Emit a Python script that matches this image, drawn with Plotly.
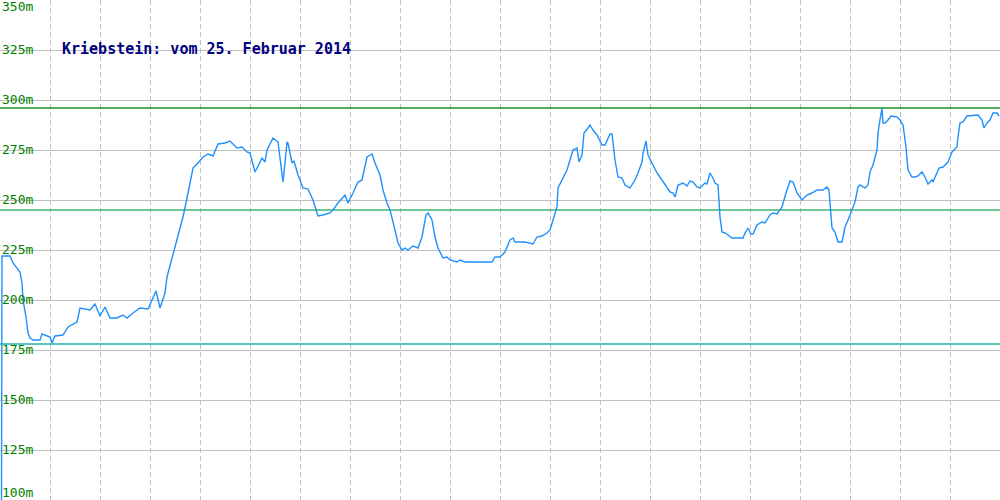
import plotly.graph_objects as go

# --- data ---
sample = [1.5, 2, 10, 13, 20, 22, 23, 26, 28, 30, 33, 40, 42, 50, 52, 55, 63, 68, 77, 80,
          90, 95, 100, 105, 110, 117, 123, 127, 133, 140, 148, 156, 160, 165, 167, 175, 178, 183, 187, 190,
          193, 198, 203, 208, 213, 218, 225, 230, 237, 242, 247, 250, 255, 262, 265, 267, 273, 278, 283, 285,
          287, 288, 292, 294, 298, 303, 308, 313, 318, 323, 330, 333, 338, 345, 348, 353, 358, 362, 367, 372,
          375, 380, 383, 387, 390, 395, 398, 402, 405, 408, 413, 418, 422, 426, 428, 432, 435, 438, 443, 447,
          450, 457, 460, 465, 492, 495, 500, 505, 510, 513, 515, 525, 533, 537, 542, 547, 550, 553, 557, 558,
          563, 567, 570, 573, 577, 579, 582, 584, 588, 590, 593, 597, 602, 605, 610, 612, 615, 618, 622, 625,
          630, 635, 638, 642, 643, 646, 648, 652, 657, 662, 667, 670, 673, 675, 678, 683, 687, 690, 693, 697,
          700, 705, 707, 710, 713, 715, 718, 720, 722, 725, 728, 732, 743, 745, 748, 751, 753, 757, 762, 765,
          770, 773, 777, 782, 786, 790, 793, 797, 802, 807, 812, 817, 823, 827, 829, 831, 832, 835, 838, 842,
          845, 848, 852, 855, 858, 860, 865, 868, 870, 873, 877, 878, 880, 882, 883, 885, 888, 891, 897, 900,
          903, 906, 908, 912, 915, 918, 922, 925, 928, 932, 933, 937, 939, 943, 948, 952, 957, 958, 960, 963,
          967, 978, 982, 984, 987, 990, 993, 997, 999]
level_m = [100, 222, 222, 218.5, 214, 208.5, 200, 191.5, 183.5, 181, 180, 180, 183, 181.5, 178.5, 182, 182.5, 186.5, 189, 196,
           195, 198, 192, 196.5, 191, 191, 192.5, 191, 193.5, 196, 195.5, 204.5, 196, 203.5, 211.5, 226.5, 232.5, 241.5, 251, 258.5,
           266, 268.5, 271.5, 273, 272, 278, 278.5, 279.5, 276, 276.5, 274, 273.5, 264, 271, 269, 275, 281, 279, 259, 268.5,
           279, 278.5, 268.5, 269.5, 262.5, 256, 255.5, 250, 242, 242.5, 243.5, 245, 248.5, 252.5, 248.5, 253.5, 259, 260, 271.5, 273,
           268.5, 262.5, 255, 248.5, 245, 235, 228.5, 225, 226, 225, 227, 226, 231.5, 242.5, 243.5, 240, 231.5, 226, 221, 221.5,
           220, 219, 220, 219, 219, 221.5, 221.5, 224, 230, 231, 229, 229, 228, 231.5, 232, 233.5, 235, 240, 246.5, 256,
           261.5, 265, 270, 275, 276, 269, 272.5, 283.5, 286, 287.5, 285, 282.5, 277.5, 277.5, 283, 283, 270, 261.5, 261, 257.5,
           256, 260, 263.5, 269, 273.5, 279.5, 272.5, 268.5, 263.5, 260, 256.5, 254, 253.5, 251.5, 257.5, 258.5, 257, 259.5, 259, 256.5,
           256, 258.5, 258, 263.5, 261, 258.5, 257.5, 241.5, 234, 233.5, 232.5, 231, 231, 233.5, 236, 233, 233, 237.5, 239, 238.5,
           242.5, 243.5, 243, 246.5, 253.5, 259.5, 259, 253.5, 250, 252.5, 253.5, 255, 255, 256.5, 255, 241.5, 236, 234, 229, 229,
           236.5, 240, 245, 249, 256.5, 257.5, 256, 257.5, 264, 267.5, 275, 283.5, 290, 296, 288.5, 288.5, 290, 292, 291.5, 290,
           287.5, 276.5, 265, 261.5, 261.5, 262, 264, 261.5, 258, 260, 259, 263.5, 266, 266.5, 269, 274, 276.5, 281.5, 288.5, 289,
           292, 292.5, 290, 286, 288.5, 290, 293.5, 293.5, 292]

level_max = 296
level_avg = 245
level_min = 178

y_ticks = [100, 125, 150, 175, 200, 225, 250, 275, 300, 325, 350]
tick_labels = [f"{v}m" for v in y_ticks]
title_text = "Kriebstein: vom 25. Februar 2014"

# --- figure ---
fig = go.Figure()

x_range = [0, 1000]
for val, col in [(level_max, "#1e8c1e"), (level_avg, "#3cb371"), (level_min, "#20b2aa")]:
    fig.add_trace(go.Scatter(x=x_range, y=[val, val], mode="lines",
                             line=dict(color=col, width=1.3), hoverinfo="skip", showlegend=False))

fig.add_trace(go.Scatter(x=sample, y=level_m, mode="lines",
                         line=dict(color="#1e90ff", width=1.4), showlegend=False))

annotations = []
for v, lab in zip(y_ticks, tick_labels):
    if v == 350:
        ya, ys = "top", 3
    elif v == 100:
        ya, ys = "bottom", -2
    else:
        ya, ys = "middle", 1
    annotations.append(dict(x=0, xref="paper", y=v, yref="y", text=lab, showarrow=False,
                            xanchor="left", xshift=0, yanchor=ya, yshift=ys,
                            font=dict(family="DejaVu Sans Mono", size=13, color="#008000")))

annotations.append(dict(x=60, xref="x", y=325, yref="y", text=f"<b>{title_text}</b>",
                        showarrow=False, xanchor="left", yanchor="middle", yshift=1,
                        font=dict(family="DejaVu Sans Mono", size=15, color="#000080")))

fig.update_layout(
    width=1000, height=500,
    margin=dict(l=0, r=0, t=0, b=0),
    paper_bgcolor="white", plot_bgcolor="white",
    annotations=annotations,
    xaxis=dict(range=x_range, showticklabels=False, ticks="", tick0=0, dtick=50,
               showgrid=True, gridcolor="#c0c0c0", griddash="5px,3px", gridwidth=1,
               zeroline=False, showline=False, fixedrange=True),
    yaxis=dict(range=[100, 350], showticklabels=False, ticks="", tickvals=y_ticks,
               showgrid=True, gridcolor="#c0c0c0", gridwidth=1,
               zeroline=False, showline=True, linecolor="#c0c0c0", linewidth=2, fixedrange=True),
)

fig.write_html("out.html", config={"displayModeBar": False, "staticPlot": True})

# remove the browser's default page margin so the chart fills the window
with open("out.html", encoding="utf-8") as fh:
    html = fh.read()
html = html.replace("<head>", "<head><style>html,body{margin:0;padding:0;overflow:hidden;}</style>", 1)
with open("out.html", "w", encoding="utf-8") as fh:
    fh.write(html)
